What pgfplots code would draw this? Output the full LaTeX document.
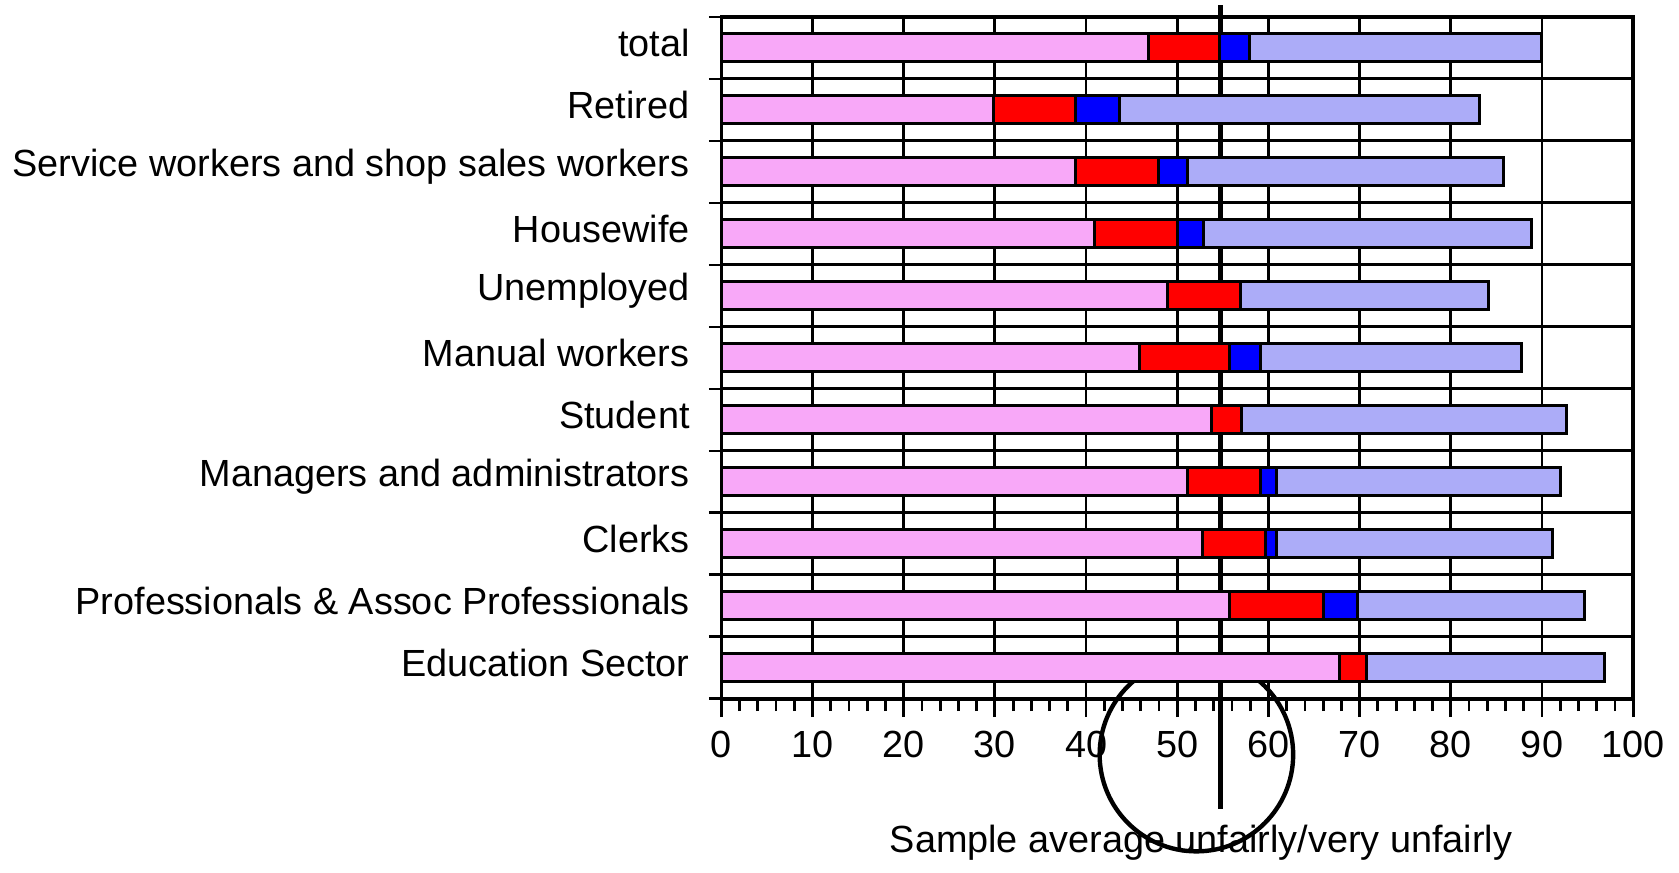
\documentclass[border=0pt]{standalone}
\usepackage{fontspec}
\setmainfont{Liberation Sans}
\usepackage{pgfplots}
\pgfplotsset{compat=1.18}
\definecolor{pinkhatch}{RGB}{248,168,248}
\definecolor{bluehatch}{RGB}{172,172,248}

\begin{document}
\fontsize{9.5}{11}\selectfont
\begin{tikzpicture}
\begin{axis}[
  scale only axis,
  width=229pt, height=171.25pt,
  xbar stacked,
  bar width=0.45,
  xmin=0, xmax=100, ymin=-0.5, ymax=10.5,
  xtick={0,10,...,100},
  minor x tick num=4,
  xtick pos=left, ytick pos=left,
  tick align=outside,
  major tick length=4.6pt, minor tick length=3.1pt,
  xmajorgrids,
  ytick={0,...,10},
  yticklabels={Education Sector, Professionals \& Assoc Professionals, Clerks,
    Managers and administrators, Student, Manual workers, Unemployed, Housewife,
    Service workers and shop sales workers, Retired, total},
  yticklabel style={yshift=1.2pt},
  minor ytick={-0.5,0.5,...,10.5},
  yminorgrids,
  major y tick style={draw=none},
  grid style={black, line width=0.7pt},
  minor grid style={black, line width=0.75pt},
  axis line style={line width=0.9pt},
  tick style={black, line width=0.7pt},
  ticklabel style={font=\fontsize{9.5}{11}\selectfont},
  /pgf/number format/assume math mode=true,
  every axis plot/.append style={draw=black, line width=0.75pt},
  clip=false,
]

% very fairly / fairly
\addplot[fill=pinkhatch] coordinates {
  (67.8,0) (55.7,1) (52.8,2) (51.1,3) (53.8,4) (45.9,5)
  (48.9,6) (40.9,7) (38.8,8) (29.8,9) (46.9,10)};
% unfairly
\addplot[fill=red] coordinates {
  (3.0,0) (10.3,1) (6.9,2) (8.0,3) (3.2,4) (9.8,5)
  (8.0,6) (9.1,7) (9.1,8) (9.0,9) (7.7,10)};
% very unfairly
\addplot[fill=blue] coordinates {
  (0,0) (3.8,1) (1.2,2) (1.8,3) (0,4) (3.4,5)
  (0,6) (2.9,7) (3.2,8) (4.9,9) (3.3,10)};
% don't know
\addplot[fill=bluehatch] coordinates {
  (26.1,0) (24.9,1) (30.2,2) (31.1,3) (35.7,4) (28.7,5)
  (27.2,6) (36.0,7) (34.7,8) (39.4,9) (32.0,10)};

% sample average marker
\draw[line width=1.25pt] (axis cs:54.7,10.69) -- (axis cs:54.7,-2.28);
\draw[line width=1.1pt] ([yshift=-14pt]axis cs:52.1,-0.5) circle[radius=24.3pt];
\node at ([yshift=-36pt]axis cs:52.6,-0.5) {Sample average unfairly/very unfairly};

\coordinate (o) at (rel axis cs:0,0);
\end{axis}
\path (o) ++(-179.25pt,-42pt) rectangle ++(419.75pt,217.5pt);
\end{tikzpicture}
\end{document}
